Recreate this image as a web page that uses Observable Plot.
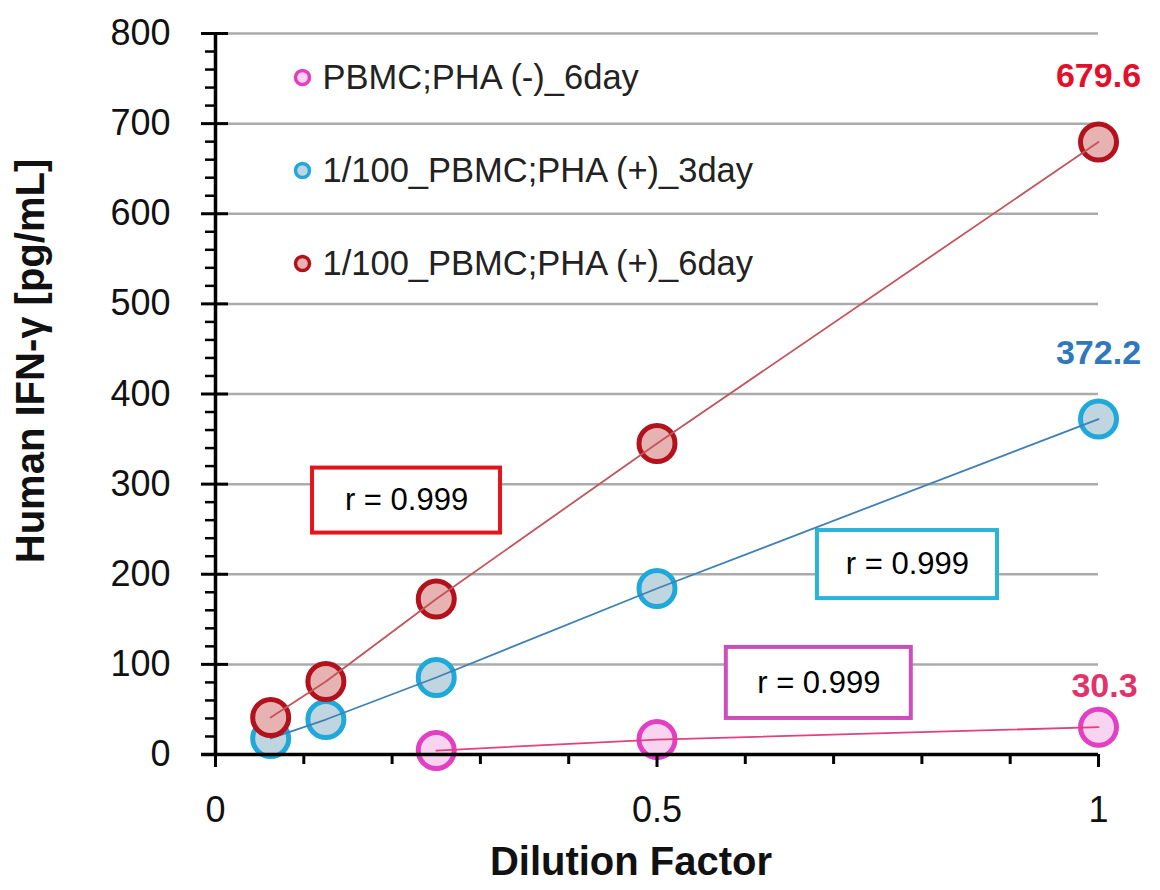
<!DOCTYPE html>
<html>
<head>
<meta charset="utf-8">
<script src="https://cdn.jsdelivr.net/npm/d3@7"></script>
<script src="https://cdn.jsdelivr.net/npm/@observablehq/plot@0.6"></script>
<style>
  html, body { margin: 0; padding: 0; background: #fff; }
  #chart svg { display: block; }
</style>
</head>
<body>
<div id="chart"></div>
<script>
// Dilution factors (x) and IFN-γ concentrations (pg/mL) per sample series
const dilution = [0.0625, 0.125, 0.25, 0.5, 1];
const seriesNames = [
  "PBMC;PHA (-)_6day",
  "1/100_PBMC;PHA (+)_3day",
  "1/100_PBMC;PHA (+)_6day"
];
const phaNeg6day = [null, null, 4.4, 16.6, 30.3];
const phaPos3day = [17.8, 38.8, 85.4, 184.2, 372.2];
const phaPos6day = [41.1, 81.0, 172.6, 345.1, 679.6];
const rValues = ["0.999", "0.999", "0.999"];

// Axis ticks
const yTicks = [0, 100, 200, 300, 400, 500, 600, 700, 800];
const xTicks = [0, 0.5, 1];
const xMinorTicks = [0.1, 0.2, 0.3, 0.4, 0.6, 0.7, 0.8, 0.9];
const yMinorTicks = d3.range(0, 800, 20).filter(v => v % 100 !== 0);

// Appearance of each series
const styles = [
  {ring: "#e23fc2", fill: "#f8d4f0", line: "#e2407e", label: "#e2326a", labelDy: -41, labelDx: 6},
  {ring: "#1fa9da", fill: "#bfd5df", line: "#3f80b7", label: "#2f78bb", labelDy: -66, labelDx: 0},
  {ring: "#b3111c", fill: "#e6b2b2", line: "#c4535c", label: "#e3102b", labelDy: -66, labelDx: 0}
];
const boxStroke = ["#cb4fb9", "#2ab4d8", "#e3141c"];
// r-value boxes, placed in data space: [x1, x2, y1, y2]
const boxExtent = [
  [0.5785, 0.7880, 40.0, 118.8],
  [0.6817, 0.8856, 173.0, 248.5],
  [0.1099, 0.3228, 245.7, 317.8]
];

const values = [phaNeg6day, phaPos3day, phaPos6day];
const rows = [];
values.forEach((vals, s) => {
  vals.forEach((v, i) => {
    if (v != null) rows.push({series: s, x: dilution[i], y: v});
  });
});
const lastPoints = values.map((vals, s) => ({series: s, x: dilution[vals.length - 1], y: vals[vals.length - 1]}));

const font = "'Liberation Sans', Arial, Helvetica, sans-serif";
const marks = [];

// horizontal gridlines
marks.push(Plot.ruleY(yTicks.filter(v => v > 0), {stroke: "#ababab", strokeWidth: 2.5}));

// r-value boxes
boxExtent.forEach((b, s) => {
  marks.push(Plot.rect([b], {x1: d => d[0], x2: d => d[1], y1: d => d[2], y2: d => d[3],
    fill: "white", stroke: boxStroke[s], strokeWidth: 4}));
  marks.push(Plot.text([b], {x: d => (d[0] + d[1]) / 2, y: d => (d[2] + d[3]) / 2,
    text: () => `r = ${rValues[s]}`, fontSize: 31, fill: "#000", lineAnchor: "middle"}));
});

// markers then connecting lines
styles.forEach((st, s) => {
  const data = rows.filter(d => d.series === s);
  marks.push(Plot.dot(data, {x: "x", y: "y", r: 18, stroke: st.ring, strokeWidth: 5, fill: st.fill}));
  marks.push(Plot.line(data, {x: "x", y: "y", stroke: st.line, strokeWidth: 1.8}));
});

// axes lines and ticks
marks.push(Plot.ruleX([0], {y1: 0, y2: 800, stroke: "#000", strokeWidth: 3.5}));
marks.push(Plot.ruleY([0], {x1: 0, x2: 1, stroke: "#000", strokeWidth: 3.5, insetLeft: -14}));
marks.push(Plot.ruleY(yTicks, {x1: 0, x2: 0, insetLeft: -14, insetRight: -13, stroke: "#000", strokeWidth: 3}));
marks.push(Plot.ruleY(yMinorTicks, {x1: 0, x2: 0, insetLeft: -10, insetRight: 0, stroke: "#000", strokeWidth: 2.5}));
marks.push(Plot.ruleX(xTicks, {y1: 0, y2: 0, insetBottom: -13, stroke: "#000", strokeWidth: 3}));
marks.push(Plot.ruleX(xMinorTicks, {y1: 0, y2: 0, insetBottom: -10, stroke: "#000", strokeWidth: 3}));

// tick labels
marks.push(Plot.text(yTicks, {x: 0, y: d => d, text: d => String(d), textAnchor: "end", dx: -45,
  fontSize: 36, fill: "#111"}));
marks.push(Plot.text(xTicks, {x: d => d, y: 0, text: d => String(d), dy: 56, fontSize: 36, fill: "#111"}));

// axis titles
marks.push(Plot.text(["Dilution Factor"], {frameAnchor: "bottom", dx: -26, dy: 108, lineAnchor: "middle",
  textAnchor: "middle", fontSize: 40, fontWeight: "bold", fill: "#111"}));
marks.push(Plot.text(["Human IFN-γ [pg/mL]"], {frameAnchor: "left", rotate: -90, dx: -184, dy: -33,
  lineAnchor: "middle", textAnchor: "middle", fontSize: 40, fontWeight: "bold", fill: "#111"}));

// value labels at the highest concentration
lastPoints.forEach((p, s) => {
  marks.push(Plot.text([p], {x: "x", y: "y", text: d => d.y.toFixed(1), dy: styles[s].labelDy, dx: styles[s].labelDx,
    fontSize: 34, fontWeight: "bold", fill: styles[s].label}));
});

// legend inside the plot area
seriesNames.forEach((name, s) => {
  marks.push(Plot.dot([name], {frameAnchor: "top-left", dx: 87, dy: 44 + 93 * s, r: 7,
    stroke: styles[s].ring, strokeWidth: 3.5, fill: styles[s].fill}));
  marks.push(Plot.text([name], {frameAnchor: "top-left", dx: 107, dy: 44 + 93 * s, text: d => d,
    textAnchor: "start", lineAnchor: "middle", fontSize: 34.5, fill: "#222"}));
});

const chart = Plot.plot({
  width: 1160,
  height: 890,
  marginLeft: 215,
  marginRight: 62,
  marginTop: 33,
  marginBottom: 136,
  x: {domain: [0, 1], axis: null},
  y: {domain: [0, 800], axis: null},
  style: {fontFamily: font, background: "white", overflow: "visible"},
  marks
});
document.getElementById("chart").append(chart);
</script>
</body>
</html>
